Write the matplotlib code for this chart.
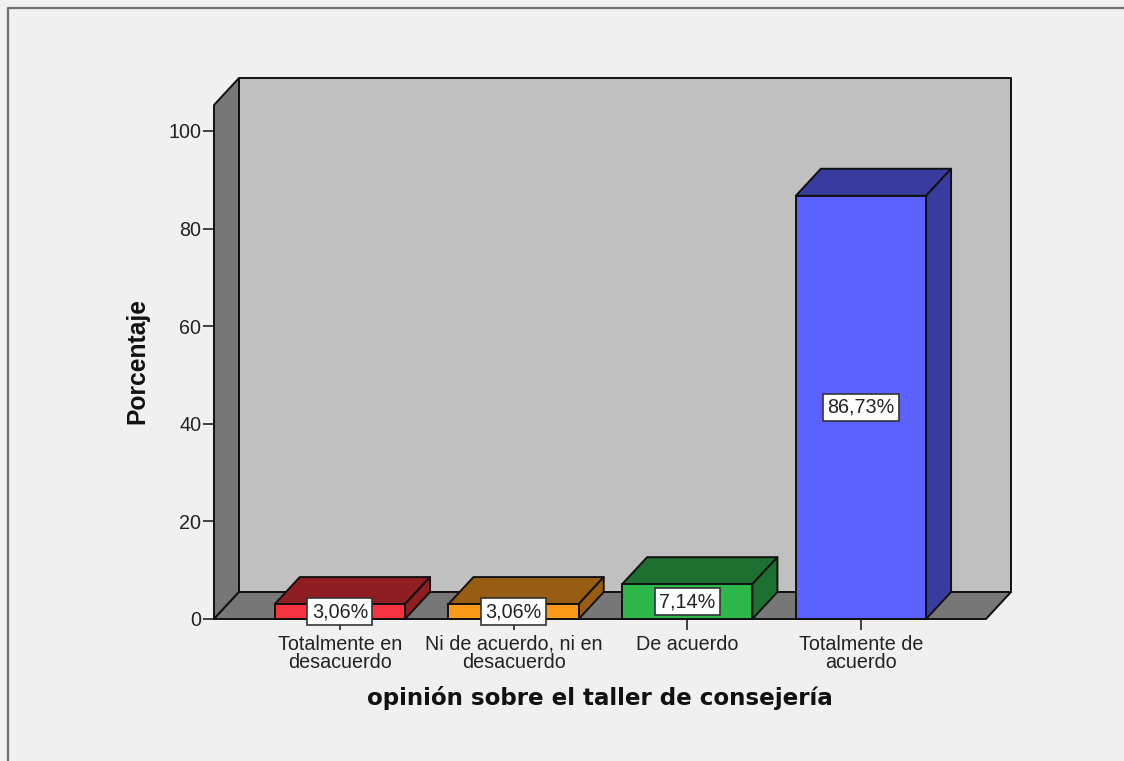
# coding=utf-8
import matplotlib
matplotlib.use('Agg')
import matplotlib.pyplot as plt
from matplotlib.patches import Polygon
from matplotlib.lines import Line2D

categorias = ['Totalmente en\ndesacuerdo', 'Ni de acuerdo, ni en\ndesacuerdo', 'De acuerdo', 'Totalmente de\nacuerdo']
valores = [3.06, 3.06, 7.14, 86.73]
etiquetas = ['3,06%', '3,06%', '7,14%', '86,73%']
colores = ['#f5333f', '#fb9a1a', '#2eb84c', '#5b62ff']
colores_osc = ['#8f1d21', '#985c12', '#1e7030', '#383c9e']
yticks = [0, 20, 40, 60, 80, 100]

plt.rcParams['font.family'] = ['Liberation Sans', 'DejaVu Sans']

W, H = 1124, 761
fig = plt.figure(figsize=(W / 100, H / 100), dpi=100, facecolor='#f0f0f0')
# ejes colocados en pixeles de la imagen
ax = fig.add_axes([214 / W, 1 - 619 / H, (986 - 214) / W, (619 - 105) / H])
ax.set_facecolor('none')
for s in ax.spines.values():
    s.set_visible(False)

xmin, xmax = -0.725, 3.72
ymax = (619 - 105) / 4.88
ax.set_xlim(xmin, xmax)
ax.set_ylim(0, ymax)

# profundidad oblicua
dx = 25 * (xmax - xmin) / (986 - 214)
dy = 27 / 4.88
lw = 1.4
borde = '#111111'


def poligono(puntos, color, z):
    ax.add_patch(Polygon(puntos, closed=True, facecolor=color, edgecolor=borde, linewidth=lw,
                         joinstyle='round', clip_on=False, zorder=z))


# paredes y suelo
poligono([(xmin + dx, dy), (xmax + dx, dy), (xmax + dx, ymax + dy), (xmin + dx, ymax + dy)], '#c0c0c0', 1)
poligono([(xmin, 0), (xmin + dx, dy), (xmin + dx, ymax + dy), (xmin, ymax)], '#777777', 2)
poligono([(xmin, 0), (xmax, 0), (xmax + dx, dy), (xmin + dx, dy)], '#777777', 2)

# barras
ancho = 0.75
for i, v in enumerate(valores):
    iz = i - ancho / 2
    de = i + ancho / 2
    ax.bar(i, v, width=ancho, color=colores[i], edgecolor=borde, linewidth=lw, clip_on=False, zorder=4)
    poligono([(iz, v), (de, v), (de + dx, v + dy), (iz + dx, v + dy)], colores_osc[i], 3)
    poligono([(de, 0), (de + dx, dy), (de + dx, v + dy), (de, v)], colores_osc[i], 3)
    ax.text(i, v / 2, etiquetas[i], ha='center', va='center', fontsize=14.2, color='#222222', zorder=6,
            bbox=dict(boxstyle='square,pad=0.22', facecolor='white', edgecolor='#333333', linewidth=1.2))

ax.set_xticks(range(len(categorias)))
ax.set_xticklabels(categorias, fontsize=14.2, color='#222222', linespacing=0.96)
ax.set_yticks(yticks)
ax.tick_params(axis='y', length=8, width=1.2, color='#222222', labelsize=14.2, labelcolor='#222222', pad=1)
ax.tick_params(axis='x', length=8, width=1.2, color='#222222', pad=3.5)

fig.text(137 / W, 1 - 361 / H, 'Porcentaje', rotation=90, ha='center', va='center',
         fontsize=17.7, fontweight='bold', color='#111111')
fig.text(600 / W, 1 - 698 / H, 'opinión sobre el taller de consejería', ha='center', va='center',
         fontsize=16.6, fontweight='bold', color='#111111', family=['DejaVu Sans'])

# marco exterior
fig.add_artist(Line2D([7.5 / W, 7.5 / W, 1], [0, 1 - 8 / H, 1 - 8 / H], color='#707070', linewidth=1.6))

fig.savefig('out.png', dpi=100, facecolor=fig.get_facecolor())
